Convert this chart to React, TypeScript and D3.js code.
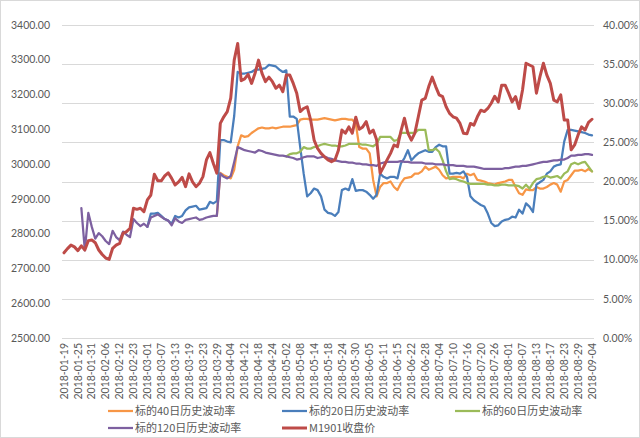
import React from 'react';
import * as d3 from 'd3';

// ---- categories (trading days) ----
const firstDay = '2018-01-19';
const lastDay = '2018-09-04';
const holidays = ['2018-02-15', '2018-02-16', '2018-02-19', '2018-02-20', '2018-02-21', '2018-04-05', '2018-04-06', '2018-04-30', '2018-05-01', '2018-06-18'];

function tradingDays(start: string, end: string, skip: string[]): string[] {
  const out: string[] = [];
  const d = new Date(start + 'T00:00:00Z');
  const e = new Date(end + 'T00:00:00Z');
  while (d <= e) {
    const s = d.toISOString().slice(0, 10);
    const wd = d.getUTCDay();
    if (wd !== 0 && wd !== 6 && !skip.includes(s)) out.push(s);
    d.setUTCDate(d.getUTCDate() + 1);
  }
  return out;
}
const dates = tradingDays(firstDay, lastDay, holidays);
const tickEvery = 4;

// ---- axis ticks ----
const leftTicks = [2500, 2600, 2700, 2800, 2900, 3000, 3100, 3200, 3300, 3400];
const rightTicks = [0, 5, 10, 15, 20, 25, 30, 35, 40];

// ---- series (volatility in %, price in points) ----
const N = null;
const vol40: (number | null)[] = [
  N, N, N, N, N, N, N, N, N, N, N, N, N, N, N, N, N, N, N, N, N, N, N, N, N, N, N, N, N, N, N, N, N, N, N, N, N, N, N, N, N, N, N, N,
  15.6,
  21.1, 20.8, 20.6, 20.4, 21.5, 24.5, 25.9, 25.7, 25.8, 26.2,
  26.5, 26.8, 26.9, 26.8, 26.8, 26.9, 26.8, 26.9, 27.0, 27.0,
  27.0, 27.1, 27.2, 27.9, 28.0, 28.0, 27.9, 27.9, 27.9, 28.0,
  28.1, 28.0, 27.9, 27.8, 27.9, 28.0, 28.0, 27.9, 27.9, 27.4,
  24.4, 24.2, 24.2, 23.6, 20.2, 18.1, 19.3, 19.8, 19.8, 20.0,
  19.3, 18.9, 19.8, 20.4, 20.5, 20.6, 21.0, 21.0, 21.3, 21.9,
  21.5, 21.7, 21.9, 21.5, 20.8, 20.4, 20.5, 20.6, 20.6, 20.6,
  20.4, 21.0, 20.8, 21.0, 20.2, 20.1, 20.0, 19.8, 19.7, 19.6,
  19.8, 19.9, 20.0, 20.2, 20.2, 19.3, 18.5, 18.3, 19.0, 18.9,
  18.9, 19.3, 19.1, 19.1, 19.3, 19.6, 19.8, 19.6, 18.7, 20.0,
  20.2, 20.8, 21.4, 21.4, 21.5, 21.3, 21.6, 21.3,
];
const vol20: (number | null)[] = [
  N, N, N, N, N, N, N, N, N, N, N, N, N, N, N, N, N, N, N, N, N, N, N, N,
  14.2,
  15.9, 15.9, 16.0, 15.6, 15.2, 15.0, 14.6, 15.6, 15.4, 15.6,
  16.3, 16.7, 16.8, 16.9, 16.4, 16.5, 16.6, 17.4, 17.2, 17.5,
  25.3, 25.3, 25.1, 25.0, 28.4, 34.0, 33.8, 33.8, 33.9, 34.0,
  34.3, 34.3, 34.4, 34.5, 34.9, 34.8, 34.7, 34.3, 34.0, 34.2,
  28.3, 28.3, 28.0, 24.4, 21.0, 18.1, 18.5, 19.1, 18.9, 18.1,
  16.4, 16.0, 15.9, 15.6, 16.1, 18.9, 19.1, 18.9, 20.3, 18.8,
  18.9, 18.9, 18.7, 18.3, 17.8, 18.3, 21.0, 20.6, 20.4, 20.6,
  20.6, 20.4, 22.3, 23.0, 24.0, 22.7, 23.2, 23.6, 23.8, 24.0,
  23.8, 23.8, 24.4, 24.7, 24.5, 24.5, 21.0, 21.0, 21.1, 21.0,
  21.3, 20.6, 18.1, 17.6, 17.3, 17.0, 16.8, 15.9, 14.7, 14.3,
  14.4, 14.9, 15.1, 15.2, 15.5, 15.4, 16.4, 15.9, 17.2, 16.8,
  16.1, 19.6, 19.9, 20.2, 21.0, 21.3, 21.9, 22.1, 22.2, 25.1,
  26.6, 26.6, 26.5, 26.4, 26.3, 26.2, 26.0, 25.9,
];
const vol60: (number | null)[] = [
  N, N, N, N, N, N, N, N, N, N, N, N, N, N, N, N, N, N, N, N, N, N, N, N, N, N, N, N, N, N, N, N,
  N, N, N, N, N, N, N, N, N, N, N, N, N, N, N, N, N, N, N, N, N, N, N, N, N, N, N, N, N, N, N, N,
  23.2,
  23.5, 23.6, 23.6, 23.8, 24.4, 24.2, 24.2, 24.4, 24.5, 24.7,
  24.8, 24.7, 24.6, 24.6, 24.5, 24.5, 24.6, 24.8, 24.8, 24.8,
  24.8, 24.7, 24.7, 24.6, 24.5, 24.8, 25.7, 25.7, 25.7, 25.7,
  25.2, 25.3, 26.2, 26.2, 26.2, 26.2, 26.2, 26.6, 26.6, 26.6,
  24.0, 24.0, 24.2, 23.8, 22.7, 21.3, 20.3, 20.4, 20.3, 20.1,
  20.0, 19.8, 19.7, 19.7, 19.7, 19.7, 19.7, 19.6, 19.6, 19.5,
  19.5, 19.6, 19.6, 19.5, 19.5, 19.5, 19.4, 19.1, 19.6, 19.1,
  19.8, 20.3, 20.4, 20.6, 20.7, 20.5, 20.6, 20.7, 20.4, 21.0,
  21.3, 22.2, 22.4, 22.2, 22.4, 22.5, 21.9, 21.3,
];
const vol120: (number | null)[] = [
  N, N, N, N, N,
  16.6, 11.2, 16.0, 14.2, 12.7, 13.4, 13.0, 12.4, 12.0, 13.7,
  12.9, 12.5, 13.6, 13.2, 12.9, 15.2, 14.7, 14.3, 14.6, 14.2,
  15.4, 15.6, 15.8, 15.5, 15.2, 15.0, 14.4, 15.3, 14.9, 14.7,
  15.1, 15.2, 15.3, 15.4, 15.1, 15.2, 15.4, 15.5, 15.6, 15.6,
  21.0, 20.6, 20.4, 20.7, 22.5, 24.4, 24.2, 24.0, 23.9, 23.8,
  23.7, 24.0, 23.9, 23.7, 23.6, 23.5, 23.4, 23.3, 23.3, 23.2,
  23.1, 23.0, 22.8, 22.9, 23.1, 23.2, 23.2, 23.2, 23.0, 23.1,
  23.2, 23.0, 22.9, 22.7, 22.6, 22.5, 22.5, 22.4, 22.4, 22.3,
  22.3, 22.2, 22.2, 22.1, 22.1, 22.0, 22.3, 22.4, 22.5, 22.5,
  22.5, 22.5, 22.6, 22.5, 22.5, 22.4, 22.4, 22.4, 22.4, 22.3,
  22.3, 22.3, 22.2, 22.2, 22.2, 22.1, 22.1, 22.1, 22.0, 22.0,
  22.0, 21.9, 21.9, 21.9, 21.8, 21.7, 21.6, 21.6, 21.6, 21.6,
  21.6, 21.6, 21.7, 21.7, 21.8, 21.9, 21.9, 22.0, 22.0, 22.1,
  22.2, 22.3, 22.4, 22.5, 22.5, 22.6, 22.7, 22.7, 22.8, 22.8,
  23.0, 23.3, 23.3, 23.4, 23.4, 23.5, 23.5, 23.4,
];
const m1901Close: number[] = [
  2745, 2757, 2767, 2762, 2751, 2765, 2753, 2780, 2782, 2774,
  2753, 2740, 2730, 2726, 2758, 2767, 2772, 2801, 2806, 2815,
  2873, 2870, 2873, 2863, 2897, 2911, 2971, 2952, 2952, 2966,
  2975, 2959, 2940, 2949, 2962, 2935, 2972, 2949, 2935, 2945,
  2964, 3012, 3033, 3002, 2974, 3117, 3136, 3151, 3190, 3299,
  3347, 3240, 3245, 3258, 3232, 3261, 3299, 3261, 3237, 3250,
  3237, 3218, 3227, 3208, 3256, 3256, 3232, 3204, 3151, 3160,
  3165, 3127, 3069, 3045, 3031, 3021, 3012, 3007, 3012, 3040,
  3098, 3089, 3107, 3089, 3135, 3100, 3107, 3122, 3089, 3098,
  3070, 2974, 2992, 3012, 3031, 3055, 3050, 3095, 3132, 3089,
  3069, 3089, 3136, 3184, 3189, 3223, 3250, 3223, 3199, 3194,
  3165, 3146, 3136, 3132, 3117, 3089, 3087, 3117, 3112, 3136,
  3155, 3151, 3160, 3175, 3195, 3179, 3227, 3227, 3204, 3179,
  3194, 3160, 3213, 3290, 3285, 3280, 3204, 3251, 3290, 3256,
  3232, 3184, 3179, 3199, 3127, 3127, 3041, 3055, 3084, 3107,
  3098, 3120, 3129,
];

const seriesNames = ['标的40日历史波动率', '标的20日历史波动率', '标的60日历史波动率', '标的120日历史波动率', 'M1901收盘价'];
const seriesColors = ['#F79646', '#4A7EBB', '#9BBB59', '#7D60A0', '#BE4B48'];

export default function App() {
  const W = 640, H = 438;
  const plotTop = 25, plotBottom = 338, plotLeft = 62, plotRight = 594;
  const x = d3.scalePoint<string>().domain(dates).range([64, 592]);
  const yL = d3.scaleLinear().domain([2500, 3400]).range([plotBottom, plotTop]);
  const yR = d3.scaleLinear().domain([0, 40]).range([plotBottom, plotTop]);

  const volLine = d3.line<number | null>()
    .defined((d) => d != null)
    .x((_, i) => x(dates[i]) as number)
    .y((d) => yR(d as number));
  const priceLine = d3.line<number>()
    .x((_, i) => x(dates[i]) as number)
    .y((d) => yL(d));

  const volSeries = [vol40, vol20, vol60, vol120];
  const font = 'Lato, "Noto Sans", sans-serif';
  const cjk = '"Noto Sans CJK SC", "Noto Sans", sans-serif';
  const txt = '#595959';

  const legend = [
    { i: 0, x: 108, y: 411 },
    { i: 1, x: 282, y: 411 },
    { i: 2, x: 455, y: 411 },
    { i: 3, x: 108, y: 428 },
    { i: 4, x: 282, y: 428 },
  ];

  return (
    <svg width={W} height={H} style={{ position: 'absolute', left: 0, top: 0, background: '#fff' }}>
      <rect x={0.5} y={0.5} width={W - 1} height={H - 1} fill="#fff" stroke="#d9d9d9" />
      {rightTicks.map((t) => (
        <line key={'g' + t} x1={plotLeft} x2={plotRight} y1={Math.round(yR(t)) + 0.5} y2={Math.round(yR(t)) + 0.5} stroke="#d9d9d9" strokeWidth={1} />
      ))}
      {leftTicks.map((t) => (
        <text key={'l' + t} x={50} y={yL(t)} dy="0.35em" textAnchor="end" fontFamily={font} fontSize={10.5} fill={txt}>
          {t.toFixed(2)}
        </text>
      ))}
      {rightTicks.map((t) => (
        <text key={'r' + t} x={603} y={yR(t)} dy="0.35em" textAnchor="start" fontFamily={font} fontSize={10.5} fill={txt}>
          {t.toFixed(2) + '%'}
        </text>
      ))}
      {dates.map((d, i) =>
        i % tickEvery === 0 ? (
          <text key={'x' + d} transform={`translate(${x(d)},343) rotate(-90)`} dy="0.35em" textAnchor="end" fontFamily={font} fontSize={10.5} fill={txt}>
            {d}
          </text>
        ) : null
      )}
      {volSeries.map((s, k) => (
        <path key={'v' + k} d={volLine(s) || ''} fill="none" stroke={seriesColors[k]} strokeWidth={2.25} strokeLinejoin="round" strokeLinecap="round" />
      ))}
      <path d={priceLine(m1901Close) || ''} fill="none" stroke={seriesColors[4]} strokeWidth={3} strokeLinejoin="round" strokeLinecap="round" />
      {legend.map((l) => (
        <g key={'lg' + l.i}>
          <line x1={l.x} x2={l.x + 25} y1={l.y} y2={l.y} stroke={seriesColors[l.i]} strokeWidth={l.i === 4 ? 3 : 2.25} />
          <text x={l.x + 27} y={l.y} dy="0.35em" fontFamily={cjk} fontSize={11} fill={txt}>
            {seriesNames[l.i]}
          </text>
        </g>
      ))}
    </svg>
  );
}
